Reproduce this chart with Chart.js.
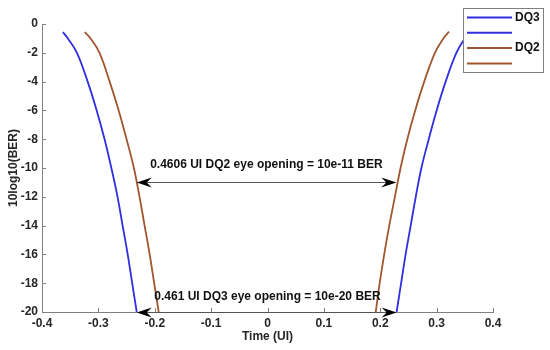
<!DOCTYPE html>
<html>
<head>
<meta charset="utf-8">
<script src="https://cdn.jsdelivr.net/npm/chart.js@4"></script>
<style>
  body { margin: 0; background: #fff; }
  #wrap { width: 550px; height: 350px; }
</style>
</head>
<body>
<div id="wrap"><canvas id="berChart"></canvas></div>
<script>
// bathtub curves: [time (UI), 10log10(BER)]
const dq3Left = [[-0.363, -0.56], [-0.354, -1], [-0.338, -2], [-0.319, -4], [-0.303, -6], [-0.289, -8],
  [-0.277, -10], [-0.266, -12], [-0.257, -14], [-0.248, -16], [-0.240, -18], [-0.232, -20]];
const dq3Right = [[0.229, -20], [0.237, -18], [0.245, -16], [0.254, -14], [0.263, -12], [0.273, -10],
  [0.286, -8], [0.300, -6], [0.316, -4], [0.335, -2], [0.350, -1], [0.360, -0.5]];
const dq2Left = [[-0.324, -0.56], [-0.314, -1], [-0.298, -2], [-0.280, -4], [-0.264, -6], [-0.250, -8],
  [-0.237, -10], [-0.227, -12], [-0.218, -14], [-0.209, -16], [-0.201, -18], [-0.193, -20]];
const dq2Right = [[0.192, -20], [0.199, -18], [0.207, -16], [0.216, -14], [0.226, -12], [0.236, -10],
  [0.248, -8], [0.262, -6], [0.278, -4], [0.297, -2], [0.312, -1], [0.322, -0.53]];

const seriesLabels = ["DQ3", "", "DQ2", ""];

// eye opening arrows: [from, to, level]
const dq2Arrow = [-0.232, 0.2286, -11];
const dq3Arrow = [-0.232, 0.229, -20];
const noteTexts = ["0.4606 UI DQ2 eye opening = 10e-11 BER", "0.461 UI DQ3 eye opening = 10e-20 BER"];
const notePos = [[-0.002, -9.8], [0, -18.95]];

const blue = "#2f2fe0";
const brown = "#a0562e";
const fontFamily = "'Liberation Sans', Arial, sans-serif";

function toPoints(arr) {
  return arr.map(p => ({ x: p[0], y: p[1] }));
}

// inward tick marks like the original figure
const innerTicks = {
  id: "innerTicks",
  afterDraw(chart) {
    const ctx = chart.ctx;
    const xs = chart.scales.x, ys = chart.scales.y;
    ctx.save();
    ctx.strokeStyle = "#808080";
    ctx.lineWidth = 1;
    xs.ticks.forEach(t => {
      const px = Math.round(xs.getPixelForValue(t.value)) + 0.5;
      ctx.beginPath();
      ctx.moveTo(px, ys.bottom);
      ctx.lineTo(px, ys.bottom - 4);
      ctx.stroke();
    });
    ys.ticks.forEach(t => {
      const py = Math.round(ys.getPixelForValue(t.value)) + 0.5;
      ctx.beginPath();
      ctx.moveTo(xs.left, py);
      ctx.lineTo(xs.left + 4, py);
      ctx.stroke();
    });
    ctx.restore();
  }
};

function arrowHead(ctx, x, y, dir) {
  // matlab style notched arrow head, dir = 1 points right, -1 points left
  ctx.beginPath();
  ctx.moveTo(x, y);
  ctx.lineTo(x - dir * 15, y - 5);
  ctx.lineTo(x - dir * 10, y);
  ctx.lineTo(x - dir * 15, y + 5);
  ctx.closePath();
  ctx.fill();
}

const annotations = {
  id: "eyeNotes",
  afterDatasetsDraw(chart) {
    const ctx = chart.ctx;
    const xs = chart.scales.x, ys = chart.scales.y;
    ctx.save();
    [dq2Arrow, dq3Arrow].forEach(a => {
      const x1 = xs.getPixelForValue(a[0]);
      const x2 = xs.getPixelForValue(a[1]);
      const y = Math.round(ys.getPixelForValue(a[2])) + 0.5;
      ctx.strokeStyle = "#555";
      ctx.lineWidth = 1;
      ctx.beginPath();
      ctx.moveTo(x1 + 4, y);
      ctx.lineTo(x2 - 4, y);
      ctx.stroke();
      ctx.fillStyle = "#000";
      arrowHead(ctx, x1, y, -1);
      arrowHead(ctx, x2, y, 1);
    });
    ctx.fillStyle = "#111";
    ctx.font = "bold 12px " + fontFamily;
    ctx.textAlign = "center";
    ctx.textBaseline = "middle";
    noteTexts.forEach((t, i) => {
      ctx.fillText(t, xs.getPixelForValue(notePos[i][0]), ys.getPixelForValue(notePos[i][1]));
    });
    ctx.restore();
  }
};

// legend box inside the top right corner
const boxLegend = {
  id: "boxLegend",
  afterDraw(chart) {
    const ctx = chart.ctx;
    const left = 463, top = 8, w = 80, h = 64;
    ctx.save();
    ctx.fillStyle = "#fff";
    ctx.fillRect(left, top, w, h);
    ctx.strokeStyle = "#808080";
    ctx.lineWidth = 1;
    ctx.strokeRect(left + 0.5, top + 0.5, w, h);
    ctx.font = "bold 12px " + fontFamily;
    ctx.textBaseline = "middle";
    chart.data.datasets.forEach((ds, i) => {
      const y = top + 9.5 + i * 15.3;
      ctx.strokeStyle = ds.borderColor;
      ctx.lineWidth = 2;
      ctx.beginPath();
      ctx.moveTo(left + 4, y);
      ctx.lineTo(left + 49, y);
      ctx.stroke();
      ctx.fillStyle = "#111";
      ctx.fillText(ds.label, left + 52, y);
    });
    ctx.restore();
  }
};

new Chart(document.getElementById("berChart"), {
  type: "scatter",
  data: {
    datasets: [
      { label: seriesLabels[0], data: toPoints(dq3Left), borderColor: blue },
      { label: seriesLabels[1], data: toPoints(dq3Right), borderColor: blue },
      { label: seriesLabels[2], data: toPoints(dq2Left), borderColor: brown },
      { label: seriesLabels[3], data: toPoints(dq2Right), borderColor: brown }
    ].map(d => Object.assign(d, {
      showLine: true, pointRadius: 0, borderWidth: 1.8, tension: 0.4
    }))
  },
  options: {
    responsive: true,
    maintainAspectRatio: false,
    animation: false,
    layout: { padding: { left: 0, right: 57, top: 24, bottom: 0 } },
    plugins: { legend: { display: false }, tooltip: { enabled: false } },
    scales: {
      x: {
        type: "linear",
        min: -0.4,
        max: 0.4,
        grid: { display: false, drawTicks: false, tickLength: 0 },
        border: { display: true, color: "#808080" },
        ticks: { stepSize: 0.1, padding: 4, color: "#262626", font: { family: fontFamily, size: 12, weight: "bold" } },
        title: { display: true, text: "Time (UI)", color: "#262626", padding: { top: 0, bottom: 6 },
          font: { family: fontFamily, size: 12, weight: "bold" } },
        afterFit(scale) { scale.height = 38; }
      },
      y: {
        min: -20,
        max: 0,
        grid: { display: false, drawTicks: false, tickLength: 0 },
        border: { display: true, color: "#808080" },
        ticks: { stepSize: 2, padding: 4, color: "#262626", font: { family: fontFamily, size: 12, weight: "bold" } },
        title: { display: true, text: "10log10(BER)", color: "#262626", padding: { top: 6, bottom: 0 },
          font: { family: fontFamily, size: 12, weight: "bold" } },
        afterFit(scale) { scale.width = 42; }
      }
    }
  },
  plugins: [innerTicks, annotations, boxLegend]
});
</script>
</body>
</html>
